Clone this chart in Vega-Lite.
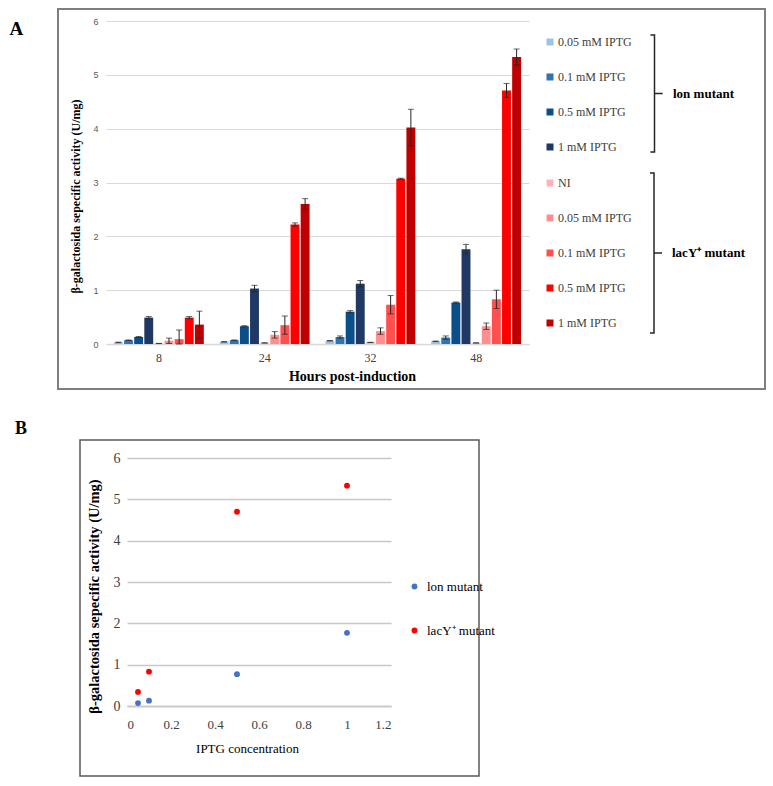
{
  "$schema": "https://vega.github.io/schema/vega-lite/v6.json",
  "padding": {"left": 8, "top": 8, "right": 0, "bottom": 0},
  "spacing": 30,
  "config": {"font": "Liberation Serif", "axis": {"ticks": false}},
  "resolve": {"scale": {"color": "independent", "shape": "independent"}, "legend": {"color": "independent", "shape": "independent"}},
  "vconcat": [
    {
      "width": 707,
      "height": 380,
      "view": {"stroke": "#7f7f7f", "strokeWidth": 2},
      "data": {"values": [
        {"h": "8", "g": "lon mutant", "c": "0.05 mM IPTG", "s": "lon 0.05", "v": 0.03, "lo": 0.025, "hi": 0.035},
        {"h": "8", "g": "lon mutant", "c": "0.1 mM IPTG", "s": "lon 0.1", "v": 0.07, "lo": 0.065, "hi": 0.075},
        {"h": "8", "g": "lon mutant", "c": "0.5 mM IPTG", "s": "lon 0.5", "v": 0.13, "lo": 0.12, "hi": 0.14},
        {"h": "8", "g": "lon mutant", "c": "1 mM IPTG", "s": "lon 1", "v": 0.49, "lo": 0.47, "hi": 0.51},
        {"h": "8", "g": "lacY⁺ mutant", "c": "NI", "s": "lacY NI", "v": 0.01, "lo": 0.008, "hi": 0.012},
        {"h": "8", "g": "lacY⁺ mutant", "c": "0.05 mM IPTG", "s": "lacY 0.05", "v": 0.06, "lo": 0.01, "hi": 0.11},
        {"h": "8", "g": "lacY⁺ mutant", "c": "0.1 mM IPTG", "s": "lacY 0.1", "v": 0.09, "lo": 0, "hi": 0.26},
        {"h": "8", "g": "lacY⁺ mutant", "c": "0.5 mM IPTG", "s": "lacY 0.5", "v": 0.49, "lo": 0.47, "hi": 0.51},
        {"h": "8", "g": "lacY⁺ mutant", "c": "1 mM IPTG", "s": "lacY 1", "v": 0.36, "lo": 0.11, "hi": 0.61},
        {"h": "24", "g": "lon mutant", "c": "0.05 mM IPTG", "s": "lon 0.05", "v": 0.04, "lo": 0.035, "hi": 0.045},
        {"h": "24", "g": "lon mutant", "c": "0.1 mM IPTG", "s": "lon 0.1", "v": 0.07, "lo": 0.065, "hi": 0.075},
        {"h": "24", "g": "lon mutant", "c": "0.5 mM IPTG", "s": "lon 0.5", "v": 0.33, "lo": 0.32, "hi": 0.34},
        {"h": "24", "g": "lon mutant", "c": "1 mM IPTG", "s": "lon 1", "v": 1.03, "lo": 0.97, "hi": 1.09},
        {"h": "24", "g": "lacY⁺ mutant", "c": "NI", "s": "lacY NI", "v": 0.02, "lo": 0.018, "hi": 0.022},
        {"h": "24", "g": "lacY⁺ mutant", "c": "0.05 mM IPTG", "s": "lacY 0.05", "v": 0.17, "lo": 0.11, "hi": 0.23},
        {"h": "24", "g": "lacY⁺ mutant", "c": "0.1 mM IPTG", "s": "lacY 0.1", "v": 0.35, "lo": 0.18, "hi": 0.52},
        {"h": "24", "g": "lacY⁺ mutant", "c": "0.5 mM IPTG", "s": "lacY 0.5", "v": 2.22, "lo": 2.19, "hi": 2.25},
        {"h": "24", "g": "lacY⁺ mutant", "c": "1 mM IPTG", "s": "lacY 1", "v": 2.6, "lo": 2.5, "hi": 2.7},
        {"h": "32", "g": "lon mutant", "c": "0.05 mM IPTG", "s": "lon 0.05", "v": 0.06, "lo": 0.055, "hi": 0.065},
        {"h": "32", "g": "lon mutant", "c": "0.1 mM IPTG", "s": "lon 0.1", "v": 0.13, "lo": 0.11, "hi": 0.15},
        {"h": "32", "g": "lon mutant", "c": "0.5 mM IPTG", "s": "lon 0.5", "v": 0.6, "lo": 0.58, "hi": 0.62},
        {"h": "32", "g": "lon mutant", "c": "1 mM IPTG", "s": "lon 1", "v": 1.12, "lo": 1.06, "hi": 1.18},
        {"h": "32", "g": "lacY⁺ mutant", "c": "NI", "s": "lacY NI", "v": 0.03, "lo": 0.028, "hi": 0.032},
        {"h": "32", "g": "lacY⁺ mutant", "c": "0.05 mM IPTG", "s": "lacY 0.05", "v": 0.24, "lo": 0.18, "hi": 0.3},
        {"h": "32", "g": "lacY⁺ mutant", "c": "0.1 mM IPTG", "s": "lacY 0.1", "v": 0.73, "lo": 0.56, "hi": 0.9},
        {"h": "32", "g": "lacY⁺ mutant", "c": "0.5 mM IPTG", "s": "lacY 0.5", "v": 3.07, "lo": 3.06, "hi": 3.08},
        {"h": "32", "g": "lacY⁺ mutant", "c": "1 mM IPTG", "s": "lacY 1", "v": 4.02, "lo": 3.68, "hi": 4.36},
        {"h": "48", "g": "lon mutant", "c": "0.05 mM IPTG", "s": "lon 0.05", "v": 0.05, "lo": 0.045, "hi": 0.055},
        {"h": "48", "g": "lon mutant", "c": "0.1 mM IPTG", "s": "lon 0.1", "v": 0.12, "lo": 0.09, "hi": 0.15},
        {"h": "48", "g": "lon mutant", "c": "0.5 mM IPTG", "s": "lon 0.5", "v": 0.77, "lo": 0.76, "hi": 0.78},
        {"h": "48", "g": "lon mutant", "c": "1 mM IPTG", "s": "lon 1", "v": 1.76, "lo": 1.67, "hi": 1.85},
        {"h": "48", "g": "lacY⁺ mutant", "c": "NI", "s": "lacY NI", "v": 0.02, "lo": 0.018, "hi": 0.022},
        {"h": "48", "g": "lacY⁺ mutant", "c": "0.05 mM IPTG", "s": "lacY 0.05", "v": 0.33, "lo": 0.27, "hi": 0.39},
        {"h": "48", "g": "lacY⁺ mutant", "c": "0.1 mM IPTG", "s": "lacY 0.1", "v": 0.83, "lo": 0.66, "hi": 1.0},
        {"h": "48", "g": "lacY⁺ mutant", "c": "0.5 mM IPTG", "s": "lacY 0.5", "v": 4.71, "lo": 4.58, "hi": 4.84},
        {"h": "48", "g": "lacY⁺ mutant", "c": "1 mM IPTG", "s": "lacY 1", "v": 5.33, "lo": 5.18, "hi": 5.48}
      ]},
      "layer": [
        {
          "encoding": {
            "x": {"field": "h", "type": "ordinal", "sort": ["8", "24", "32", "48"],
              "scale": {"range": [48, 471], "paddingInner": 0.15, "paddingOuter": 0.075},
              "axis": {"orient": "bottom", "offset": -45, "labelAngle": 0, "labelFont": "Liberation Serif", "labelFontSize": 12, "labelColor": "#404040", "labelPadding": 8, "domain": true, "domainColor": "#d9d9d9", "domainWidth": 1.5, "ticks": false, "grid": false,
                "title": "Hours post-induction", "titleFont": "Liberation Serif", "titleFontSize": 14, "titleFontWeight": "bold", "titleColor": "#000000", "titleX": 294, "titleY": 25, "titleBaseline": "top"}},
            "xOffset": {"field": "s", "type": "nominal",
              "scale": {"domain": ["lon 0.05", "lon 0.1", "lon 0.5", "lon 1", "lacY NI", "lacY 0.05", "lacY 0.1", "lacY 0.5", "lacY 1"], "paddingInner": 0.12, "paddingOuter": 0}},
            "y": {"field": "v", "type": "quantitative",
              "scale": {"domain": [0, 6], "range": [335, 12], "nice": false},
              "axis": {"orient": "left", "offset": -48, "values": [0, 1, 2, 3, 4, 5, 6], "labelFont": "Liberation Sans", "labelFontSize": 9, "labelColor": "#595959", "labelPadding": 8, "grid": true, "gridColor": "#d9d9d9", "gridWidth": 1, "domain": false, "ticks": false,
                "title": "β-galactosida sepecific activity (U/mg)", "titleFont": "Liberation Serif", "titleFontSize": 12, "titleFontWeight": "bold", "titleColor": "#000000", "titleX": -31, "titleY": 187, "titleBaseline": "middle", "titleAngle": -90}}
          },
          "layer": [
            {
              "transform": [{"filter": "datum.g == 'lon mutant'"}],
              "mark": {"type": "bar"},
              "encoding": {
                "color": {"field": "c", "type": "nominal",
                  "scale": {"domain": ["0.05 mM IPTG", "0.1 mM IPTG", "0.5 mM IPTG", "1 mM IPTG"], "range": ["#9dc3e6", "#2e75b6", "#0b4f8a", "#1f3864"]},
                  "legend": {"title": null, "orient": "none", "legendX": 486, "legendY": 27, "padding": 0, "rowPadding": 23, "symbolType": "square", "symbolSize": 49, "symbolStrokeWidth": 0, "labelOffset": 2, "labelFont": "Liberation Serif", "labelFontSize": 12, "labelColor": "#404040"}}
              }
            },
            {
              "transform": [{"filter": "datum.g != 'lon mutant'"}],
              "mark": {"type": "bar"},
              "encoding": {
                "color": {"field": "c", "type": "nominal",
                  "scale": {"domain": ["NI", "0.05 mM IPTG", "0.1 mM IPTG", "0.5 mM IPTG", "1 mM IPTG"], "range": ["#ffb3b8", "#ff8f8f", "#ff5050", "#ff0000", "#c00000"]},
                  "legend": {"title": null, "orient": "none", "legendX": 486, "legendY": 168, "padding": 0, "rowPadding": 23, "symbolType": "square", "symbolSize": 49, "symbolStrokeWidth": 0, "labelOffset": 2, "labelFont": "Liberation Serif", "labelFontSize": 12, "labelColor": "#404040"}}
              }
            },
            {
              "mark": {"type": "rule", "color": "#262626", "strokeWidth": 1},
              "encoding": {"y": {"field": "lo", "type": "quantitative"}, "y2": {"field": "hi"}}
            },
            {
              "mark": {"type": "tick", "color": "#262626", "orient": "horizontal", "size": 6, "thickness": 1},
              "encoding": {"y": {"field": "hi", "type": "quantitative"}}
            },
            {
              "mark": {"type": "tick", "color": "#262626", "orient": "horizontal", "size": 6, "thickness": 1},
              "encoding": {"y": {"field": "lo", "type": "quantitative"}}
            }
          ],
          "resolve": {"scale": {"color": "independent"}, "legend": {"color": "independent"}}
        },
        {
          "encoding": {
            "y": {"field": "v", "type": "quantitative",
              "scale": {"domain": [0, 6], "range": [335, 12], "nice": false},
              "axis": {"orient": "right", "offset": 0, "labels": false, "grid": false, "domain": false, "ticks": false,
                "title": "A", "titleFont": "Liberation Serif", "titleFontSize": 19, "titleFontWeight": "bold", "titleColor": "#000000", "titleAngle": 0, "titleAlign": "left", "titleBaseline": "alphabetic", "titleX": -756, "titleY": 25}}
          },
          "layer": [
            {
              "transform": [{"filter": "datum.g == 'lon mutant'"}],
              "mark": {"type": "point", "opacity": 0, "size": 1, "color": "#262626", "filled": false},
              "encoding": {
                "shape": {"field": "g", "type": "nominal",
                  "scale": {"range": ["M-0.07,-1L0,-1L0,1L-0.07,1M0,0L0.14,0"]},
                  "legend": {"title": null, "orient": "none", "legendX": 537, "legendY": 25, "padding": 0, "symbolSize": 13689, "symbolOpacity": 1, "symbolStrokeColor": "#262626", "symbolStrokeWidth": 1.5, "symbolFillColor": "transparent", "labelOffset": -41, "labelFont": "Liberation Serif", "labelFontSize": 13, "labelFontWeight": "bold", "labelColor": "#000000",
                    "encode": {"symbols": {"update": {"opacity": {"value": 1}}}}}}
              }
            },
            {
              "transform": [{"filter": "datum.g != 'lon mutant'"}],
              "mark": {"type": "point", "opacity": 0, "size": 1, "color": "#262626", "filled": false},
              "encoding": {
                "shape": {"field": "g", "type": "nominal",
                  "scale": {"range": ["M-0.05,-1L0,-1L0,1L-0.05,1M0,0L0.1,0"]},
                  "legend": {"title": null, "orient": "none", "legendX": 515, "legendY": 163, "padding": 0, "symbolSize": 25600, "symbolOpacity": 1, "symbolStrokeColor": "#262626", "symbolStrokeWidth": 1.5, "symbolFillColor": "transparent", "labelOffset": -63, "labelFont": "Liberation Serif", "labelFontSize": 13, "labelFontWeight": "bold", "labelColor": "#000000",
                    "encode": {"symbols": {"update": {"opacity": {"value": 1}}}}}}
              }
            }
          ],
          "resolve": {"scale": {"shape": "independent"}, "legend": {"shape": "independent"}}
        }
      ],
      "resolve": {"scale": {"y": "independent", "color": "independent", "shape": "independent"}, "legend": {"color": "independent", "shape": "independent"}}
    },
    {
      "spacing": 0,
      "resolve": {"scale": {"color": "independent"}, "legend": {"color": "independent"}},
      "hconcat": [
        {
          "width": 21,
          "height": 336,
          "view": {"stroke": null},
          "title": {"text": "B", "anchor": "start", "frame": "group", "orient": "top", "offset": 2, "dx": -43, "fontSize": 18, "fontWeight": "bold", "font": "Liberation Serif", "color": "#000000"},
          "data": {"values": []},
          "mark": {"type": "point"}
        },
        {
          "width": 399,
          "height": 336,
          "view": {"stroke": "#595959", "strokeWidth": 1.5},
          "data": {"values": [
            {"c": 0.05, "v": 0.07, "g": "lon mutant"},
            {"c": 0.1, "v": 0.13, "g": "lon mutant"},
            {"c": 0.5, "v": 0.77, "g": "lon mutant"},
            {"c": 1, "v": 1.77, "g": "lon mutant"},
            {"c": 0.05, "v": 0.34, "g": "lacY⁺ mutant"},
            {"c": 0.1, "v": 0.83, "g": "lacY⁺ mutant"},
            {"c": 0.5, "v": 4.7, "g": "lacY⁺ mutant"},
            {"c": 1, "v": 5.33, "g": "lacY⁺ mutant"}
          ]},
          "mark": {"type": "circle", "size": 34, "opacity": 1},
          "encoding": {
            "x": {"field": "c", "type": "quantitative",
              "scale": {"domain": [0, 1.2], "range": [47, 311], "nice": false, "zero": true},
              "axis": {"offset": -70, "values": [0, 0.2, 0.4, 0.6, 0.8, 1, 1.2], "format": "~g", "labelFont": "Liberation Serif", "labelFontSize": 13, "labelColor": "#404040", "labelPadding": 12, "domain": true, "domainColor": "#c8c8c8", "domainWidth": 1.5, "ticks": false, "grid": false,
                "title": "IPTG concentration", "titleFont": "Liberation Serif", "titleFontSize": 13, "titleFontWeight": "normal", "titleColor": "#000000", "titleX": 167, "titleY": 42, "titleBaseline": "middle"}},
            "y": {"field": "v", "type": "quantitative",
              "scale": {"domain": [0, 6], "range": [266, 18], "nice": false},
              "axis": {"offset": -47, "values": [0, 1, 2, 3, 4, 5, 6], "labelFont": "Liberation Serif", "labelFontSize": 14, "labelColor": "#404040", "labelPadding": 7, "grid": true, "gridColor": "#c8c8c8", "gridWidth": 1.5, "domain": false, "ticks": false,
                "title": "β-galactosida sepecific activity (U/mg)", "titleFont": "Liberation Serif", "titleFontSize": 14.5, "titleFontWeight": "bold", "titleColor": "#000000", "titleX": -33, "titleY": 156, "titleBaseline": "middle", "titleAngle": -90}},
            "color": {"field": "g", "type": "nominal",
              "scale": {"domain": ["lon mutant", "lacY⁺ mutant"], "range": ["#4472c4", "#ff0000"]},
              "legend": {"title": null, "orient": "none", "legendX": 328, "legendY": 140, "padding": 0, "rowPadding": 30, "symbolType": "circle", "symbolSize": 34, "labelOffset": 6, "labelFont": "Liberation Serif", "labelFontSize": 13, "labelColor": "#000000"}}
          }
        }
      ]
    }
  ]
}
